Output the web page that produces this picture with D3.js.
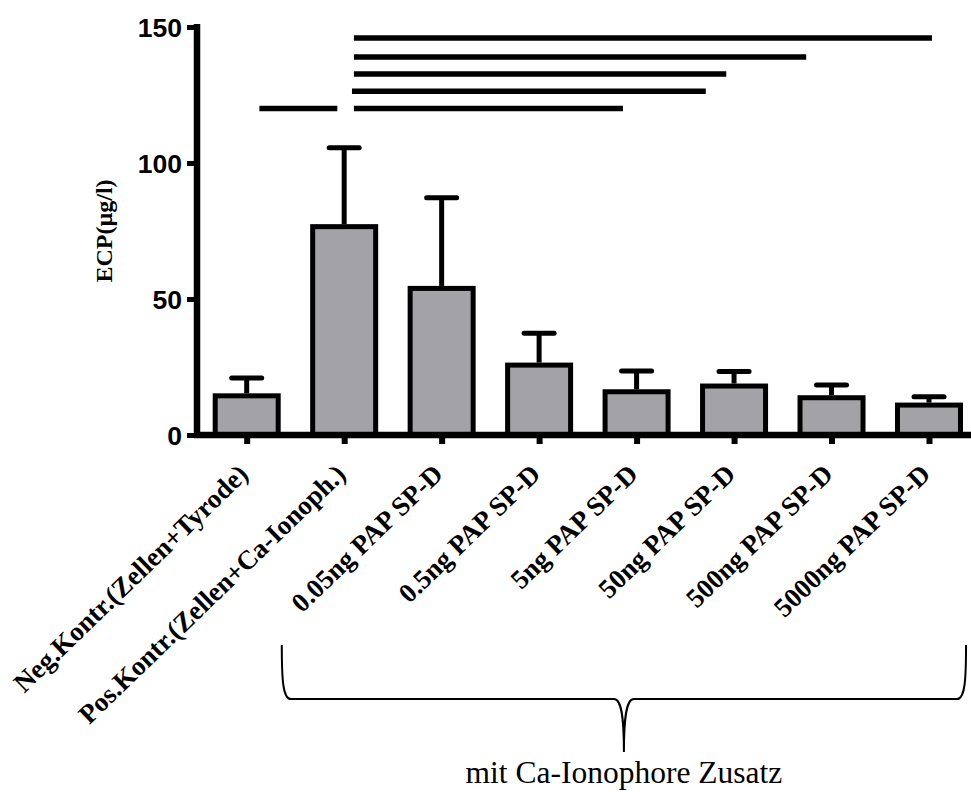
<!DOCTYPE html>
<html><head><meta charset="utf-8">
<script src="https://cdn.jsdelivr.net/npm/d3@7"></script>
<style>html,body{margin:0;padding:0;background:#fff;}svg{display:block;}</style>
</head><body>
<svg id="chart" width="971" height="792"></svg>
<script>
const categories = ["Neg.Kontr.(Zellen+Tyrode)","Pos.Kontr.(Zellen+Ca-Ionoph.)","0.05ng PAP SP-D","0.5ng PAP SP-D","5ng PAP SP-D","50ng PAP SP-D","500ng PAP SP-D","5000ng PAP SP-D"];
const means = [14.4, 76.6, 53.9, 25.7, 15.9, 18.0, 13.7, 11.0];
const errors = [6.6, 29.0, 33.3, 11.7, 7.6, 5.3, 4.7, 3.1];
const yTicks = [0, 50, 100, 150];
const yLabel = "ECP(µg/l)";
// significance lines: from index, to index, value
const sigFrom = [0.13, 1.10, 1.08, 1.10, 1.10, 1.10];
const sigTo   = [0.93, 3.86, 4.71, 4.92, 5.74, 7.03];
const sigVal  = [120, 120, 126.4, 132.7, 139, 146];
const bracketLabel = "mit Ca-Ionophore Zusatz";
const bracketFrom = 0.36, bracketTo = 7.38;

const svg = d3.select("#chart");
const x = d3.scalePoint().domain(categories).range([246.7, 929]);
const xi = d3.scaleLinear().domain([0, categories.length - 1]).range([246.7, 929]);
const y = d3.scaleLinear().domain([0, 150]).range([435, 27]);
const barW = 63;
const serif = "'Liberation Serif','Times New Roman',serif";
const sans = "'Liberation Sans',Arial,sans-serif";

// bars
svg.append("g").selectAll("rect").data(categories).join("rect")
  .attr("x", d => x(d) - barW/2)
  .attr("y", (d,i) => y(means[i]))
  .attr("width", barW)
  .attr("height", (d,i) => y(0) - y(means[i]))
  .attr("fill", "#a3a2a7").attr("stroke", "#000").attr("stroke-width", 5);

// error bars
const eg = svg.append("g").attr("stroke", "#000").attr("stroke-width", 5);
eg.selectAll("line.v").data(categories).join("line").attr("class","v")
  .attr("x1", d => x(d)).attr("x2", d => x(d))
  .attr("y1", (d,i) => y(means[i]) - 2.5).attr("y2", (d,i) => y(means[i] + errors[i]));
eg.selectAll("line.c").data(categories).join("line").attr("class","c")
  .attr("stroke-linecap","round")
  .attr("x1", d => x(d) - 15).attr("x2", d => x(d) + 15)
  .attr("y1", (d,i) => y(means[i] + errors[i])).attr("y2", (d,i) => y(means[i] + errors[i]));

// y axis
const ya = svg.append("g").attr("transform", "translate(197,0)")
  .call(d3.axisLeft(y).tickValues(yTicks).tickSize(10).tickPadding(5).tickSizeOuter(0));
ya.select(".domain").remove();
ya.selectAll(".tick line").attr("stroke", "#000").attr("stroke-width", 5);
ya.selectAll(".tick text").attr("font-family", sans).attr("font-weight", "bold")
  .attr("font-size", 26.5).attr("fill", "#000").attr("dy", "0.36em");
svg.append("line").attr("x1", 197).attr("x2", 197).attr("y1", y(150) - 3).attr("y2", y(0) + 3)
  .attr("stroke", "#000").attr("stroke-width", 6.5);

// x axis
const xa = svg.append("g").attr("transform", `translate(0,${y(0)})`)
  .call(d3.axisBottom(x).tickSize(9).tickSizeOuter(0).tickFormat(""));
xa.select(".domain").remove();
xa.selectAll(".tick line").attr("stroke", "#000").attr("stroke-width", 6);
svg.append("line").attr("x1", 194).attr("x2", 971).attr("y1", y(0)).attr("y2", y(0))
  .attr("stroke", "#000").attr("stroke-width", 6.5);

// x labels
svg.append("g").selectAll("text").data(categories).join("text")
  .attr("transform", d => `translate(${x(d) + 3},476) rotate(-44)`)
  .attr("text-anchor", "end")
  .attr("font-family", serif).attr("font-weight", "bold").attr("font-size", 27)
  .text(d => d);

// y label
svg.append("text").attr("transform", `translate(112,${(y(0)+y(150))/2}) rotate(-90)`)
  .attr("text-anchor", "middle").attr("font-family", serif).attr("font-weight", "bold")
  .attr("font-size", 24).text(yLabel);

// significance lines
svg.append("g").selectAll("line").data(sigVal).join("line")
  .attr("x1", (d,i) => xi(sigFrom[i])).attr("x2", (d,i) => xi(sigTo[i]))
  .attr("y1", d => y(d)).attr("y2", d => y(d))
  .attr("stroke", "#000").attr("stroke-width", 5.5);

// bracket
const bl = xi(bracketFrom), br = xi(bracketTo), bc = (bl + br) / 2;
const bTop = 645, bMid = 699, bTip = 752;
const p = d3.path();
p.moveTo(bl, bTop);
p.bezierCurveTo(bl, bMid - 20, bl + 1, bMid, bl + 9, bMid);
p.lineTo(bc - 10, bMid);
p.bezierCurveTo(bc - 2, bMid, bc, bMid + 20, bc, bTip);
p.moveTo(bc, bTip);
p.bezierCurveTo(bc, bMid + 20, bc + 2, bMid, bc + 10, bMid);
p.lineTo(br - 9, bMid);
p.bezierCurveTo(br - 1, bMid, br, bMid - 20, br, bTop);
svg.append("path").attr("d", p.toString()).attr("fill", "none")
  .attr("stroke", "#000").attr("stroke-width", 2);

svg.append("text").attr("x", bc).attr("y", 783).attr("text-anchor", "middle")
  .attr("font-family", serif).attr("font-size", 31.5).text(bracketLabel);
</script>
</body></html>
